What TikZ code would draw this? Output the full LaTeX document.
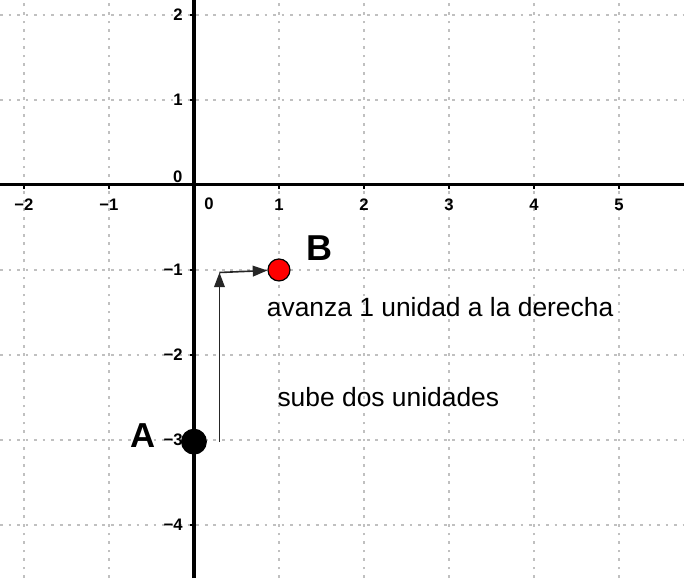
\documentclass[tikz,border=0pt]{standalone}
\usepackage{fontspec}
\setmainfont{Liberation Sans}
\usetikzlibrary{arrows.meta,positioning}
\definecolor{gridgray}{RGB}{192,192,192}
\definecolor{ptred}{RGB}{255,0,0}
\begin{document}
\begin{tikzpicture}[x=63.75pt,y=63.75pt,
 grd/.style={gridgray,line width=2.1pt,dash pattern=on 2.1pt off 4.3pt},
 ax/.style={line width=2.3pt},
 tk/.style={font=\bfseries\fontsize{12.5}{13}\selectfont,inner sep=0pt},
 pt/.style={circle,draw,line width=0.9pt,inner sep=0pt},
 lbl/.style={font=\bfseries\fontsize{27}{30}\selectfont,inner sep=0pt},
 txt/.style={font=\fontsize{19.8}{22}\selectfont,anchor=base west,inner sep=0pt},
 mv/.style={-{Triangle[length=11pt,width=8pt]},line width=1.2pt,black!85}]
\useasboundingbox (-2.282,-4.624) rectangle (5.765,2.176);
% grid
\foreach \i in {-2,...,5} \draw[grd] (\i,-4.624) -- (\i,2.176);
\foreach \j in {-4,...,2} \draw[grd] (-2.282,\j) -- (5.765,\j);
% axes
\draw[ax] (-2.282,0) -- (5.765,0);
\draw[ax] (0,-4.624) -- (0,2.176);
\foreach \i/\t in {-2/−2,-1/−1,1/1,2/2,3/3,4/4,5/5}{
 \draw[line width=2pt] (\i,0) -- (\i,-0.045);
 \node[tk] (x\i) at (\i,-0.235) {\t};}
\foreach \j/\t in {-4/−4,-3/−3,-2/−2,-1/−1,1/1,2/2}{
 \draw[line width=2pt] (0,\j) -- (-0.045,\j);
 \node[tk,anchor=east] (y\j) at (-0.13,\j) {\t};}
\node[tk] (x0) at (0.176,-0.224) {0};
\node[tk] (y0) at (-0.19,0.094) {0};
% points
\node[pt,fill=black,minimum size=18.5pt] (A) at (0,-3.02) {};
\node[pt,fill=ptred,minimum size=16.5pt] (B) at (1,-1) {};
\node[lbl,font=\bfseries\fontsize{26}{30}\selectfont] (la) at (-0.594,-2.953) {A};
\node[lbl] (lb) at (1.482,-0.741) {B};
% moves
\coordinate (s) at (0.3,-3.02);
\coordinate (k) at (0.3,-1.03);
\draw[mv] (s) -- (k);
\draw[mv] (k) -- (B);
\node[txt] (t1) at (0.855,-1.549) {avanza 1 unidad a la derecha};
\node[txt] (t2) at (0.98,-2.606) {sube dos unidades};
\end{tikzpicture}
\end{document}
